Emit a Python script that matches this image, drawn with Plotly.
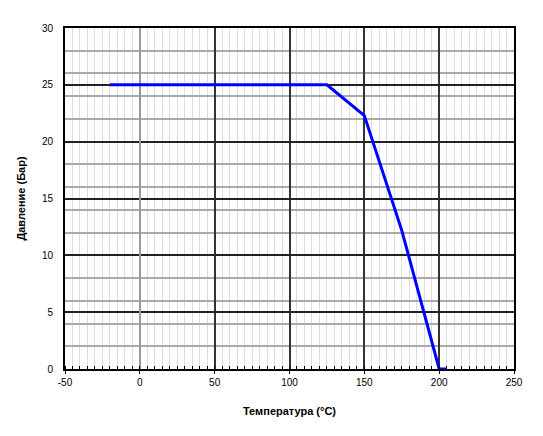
import plotly.graph_objects as go

temperature = [-20, 125, 150, 175, 200, 205]
pressure = [25, 25, 22.3, 12.2, 0, 0]
x_ticks = [-50, 0, 50, 100, 150, 200, 250]
x_tick_labels = ["-50", "0", "50", "100", "150", "200", "250"]
y_ticks = [0, 5, 10, 15, 20, 25, 30]
x_title = "Температура (°C)"
y_title = "Давление (Бар)"

fig = go.Figure()
fig.add_trace(go.Scatter(x=temperature, y=pressure, mode="lines",
                         line=dict(color="#0000ff", width=3), showlegend=False))

fig.update_layout(
    width=535, height=428,
    margin=dict(l=57, r=29, t=20, b=67),
    paper_bgcolor="white", plot_bgcolor="white",
    font=dict(family="Liberation Sans, Arial", size=10, color="black"),
    xaxis=dict(range=[-50, 250], tickvals=x_ticks, ticktext=x_tick_labels, showgrid=True,
               gridcolor="#333333", gridwidth=1.5,
               zeroline=True, zerolinecolor="#999999", zerolinewidth=1.5,
               showline=True, linecolor="black", linewidth=2, mirror=True,
               ticks="outside", ticklen=3, tickcolor="black",
               minor=dict(dtick=5, tick0=0, showgrid=True, gridcolor="#dddddd", gridwidth=1,
                          ticks="inside", ticklen=3, tickcolor="black"),
               title=dict(text="<b>" + x_title + "</b>", font=dict(size=11), standoff=20)),
    yaxis=dict(range=[0, 30], tickvals=y_ticks, showgrid=True,
               gridcolor="#222222", gridwidth=1.5,
               zeroline=False,
               showline=True, linecolor="black", linewidth=2, mirror=True,
               ticks="", ticklabelstandoff=8,
               minor=dict(dtick=2, tick0=0, showgrid=True, gridcolor="#aaaaaa", gridwidth=1.5),
               title=dict(text="<b>" + y_title + "</b>", font=dict(size=11), standoff=14)),
)
fig.write_html("out.html")
